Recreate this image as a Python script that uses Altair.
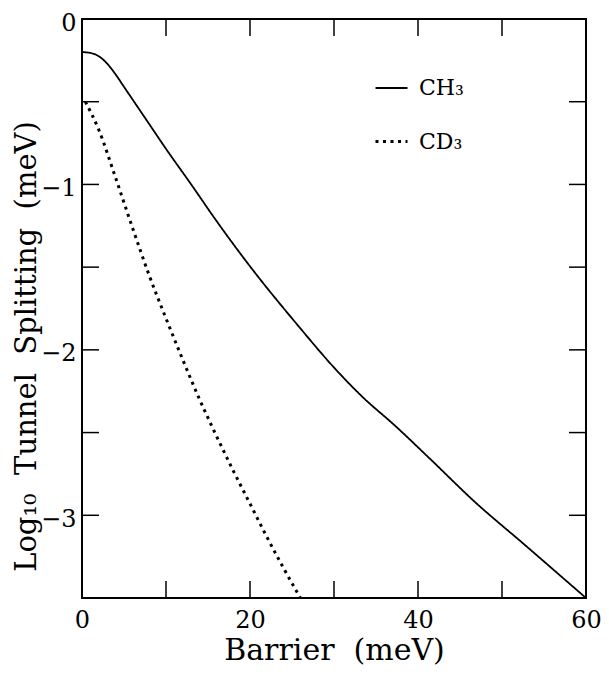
import altair as alt
import pandas as pd

# ---- data ----
series_names = ["CH₃", "CD₃"]

ch3_barrier = [0, 1, 2, 3, 4, 5, 6, 8, 10, 13, 16, 20, 25.5, 30.6, 33.3, 37.3, 41.6, 46.7, 52.6, 60]
ch3_log = [-0.20, -0.205, -0.225, -0.27, -0.335, -0.41, -0.485, -0.635, -0.785, -1.0,
           -1.22, -1.495, -1.84, -2.14, -2.28, -2.46, -2.667, -2.916, -3.174, -3.5]

cd3_barrier = [0.4, 2, 4, 6, 8, 10, 12, 14, 16, 18, 20, 22, 24, 26]
cd3_log = [-0.50, -0.67, -0.96, -1.26, -1.55, -1.81, -2.06, -2.30, -2.52, -2.73,
           -2.93, -3.13, -3.32, -3.5]

x_tick_values = [10, 20, 30, 40, 50]
y_tick_values = [-0.5, -1, -1.5, -2, -2.5, -3]
x_label_values = [0, 20, 40, 60]
y_label_values = [0, -1, -2, -3]

W, H = 504, 579
FONT = "DejaVu Serif"
TICK = 17
NB = "\u00a0"

curves = pd.DataFrame({
    "barrier": ch3_barrier + cd3_barrier,
    "logsplit": ch3_log + cd3_log,
    "series": [series_names[0]] * len(ch3_barrier) + [series_names[1]] * len(cd3_barrier),
})
xt = pd.DataFrame({"v": x_tick_values})
yt = pd.DataFrame({"v": y_tick_values})

xs = alt.Scale(domain=[0, 60], nice=False, zero=False)
ys = alt.Scale(domain=[-3.5, 0], nice=False, zero=False)

leg = alt.Legend(
    title=None, orient="none", legendX=292, legendY=52,
    symbolType="stroke", symbolSize=1024,
    labelFont=FONT, labelFontSize=22, labelColor="black", labelOffset=10,
    rowPadding=25,
)

lines = alt.Chart(curves).mark_line(interpolate="monotone", clip=True).encode(
    x=alt.X("barrier:Q", scale=xs, axis=alt.Axis(
        values=x_label_values, format="d", title="Barrier" + NB + " (meV)",
        titleX=W / 2, titleY=61, titleBaseline="alphabetic", titleAlign="center",
        labelPadding=10, labelFlush=False)),
    y=alt.Y("logsplit:Q", scale=ys, axis=alt.Axis(
        values=y_label_values, format="d",
        title="Log₁₀" + NB + NB + "Tunnel" + NB + NB + "Splitting" + NB + NB + "(meV)",
        titleAngle=270, titleX=-47, titleY=327, titleBaseline="alphabetic",
        titleAlign="center", titleFontSize=29,
        labelPadding=6, labelOffset=4, labelFlush=False)),
    color=alt.Color("series:N", scale=alt.Scale(domain=series_names, range=["black", "black"]), legend=leg),
    strokeDash=alt.StrokeDash("series:N", scale=alt.Scale(domain=series_names, range=[[1, 0], [3, 4.5]]), legend=leg),
    strokeWidth=alt.StrokeWidth("series:N", scale=alt.Scale(domain=series_names, range=[1.8, 3]), legend=leg),
)

tick_style = dict(color="black", strokeWidth=1.5)
xb = alt.Chart(xt).mark_rule(**tick_style).encode(x=alt.X("v:Q", scale=xs), y=alt.value(H), y2=alt.value(H - TICK))
xtop = alt.Chart(xt).mark_rule(**tick_style).encode(x=alt.X("v:Q", scale=xs), y=alt.value(0), y2=alt.value(TICK))
yl = alt.Chart(yt).mark_rule(**tick_style).encode(y=alt.Y("v:Q", scale=ys), x=alt.value(0), x2=alt.value(TICK))
yr = alt.Chart(yt).mark_rule(**tick_style).encode(y=alt.Y("v:Q", scale=ys), x=alt.value(W - TICK), x2=alt.value(W))

chart = alt.layer(lines, xb, xtop, yl, yr).properties(
    width=W, height=H,
    padding={"left": 74, "top": 11, "right": 15, "bottom": 68},
    autosize=alt.AutoSizeParams(type="none"),
    background="white",
).configure_view(
    stroke="black", strokeWidth=2
).configure_axis(
    grid=False, ticks=False, domain=False,
    labelFont=FONT, labelFontSize=24, labelColor="black",
    titleFont=FONT, titleFontSize=30, titleFontWeight="normal", titleColor="black",
)

chart.save("out.html", embed_options={"renderer": "svg", "actions": False})
